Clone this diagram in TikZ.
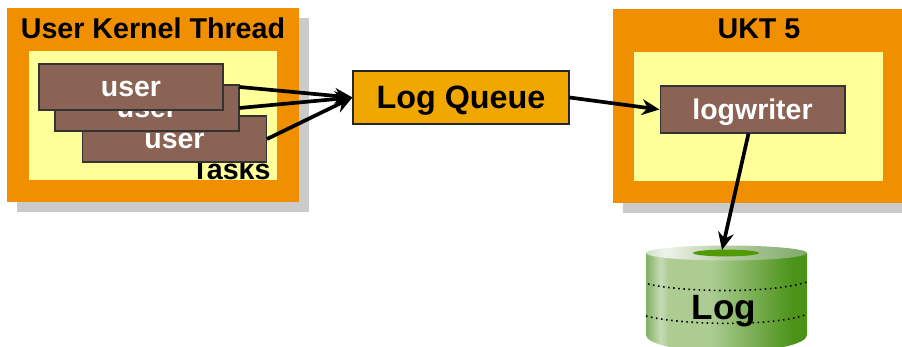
\documentclass[tikz,border=0pt]{standalone}
\usepackage{fontspec}
\setmainfont{Liberation Sans}
\usepackage{tikz}
\usetikzlibrary{shapes}
\usetikzlibrary{arrows.meta}

\definecolor{ukt}{HTML}{F09000}
\definecolor{ukts}{HTML}{CBCBCB}
\definecolor{inner}{HTML}{FFFF99}
\definecolor{task}{HTML}{8A6354}
\definecolor{queue}{HTML}{F0A800}
\definecolor{hole}{HTML}{4F9A05}
\definecolor{sidea}{HTML}{82B065}
\definecolor{sideb}{HTML}{C6DCB4}
\definecolor{sidec}{HTML}{ACCC92}
\definecolor{sided}{HTML}{4A9218}
\definecolor{capa}{HTML}{D0E0C4}
\definecolor{capb}{HTML}{EEF3EA}
\definecolor{capc}{HTML}{B5CDA5}
\definecolor{capd}{HTML}{7FA968}
\pgfdeclarehorizontalshading{logside}{100bp}{
  color(0bp)=(sidea); color(25bp)=(sidea); color(29.5bp)=(sideb); color(32bp)=(sidec);
  color(45bp)=(sidec); color(71bp)=(sided); color(100bp)=(sided)}
\pgfdeclarehorizontalshading{logcap}{100bp}{
  color(0bp)=(capa); color(25bp)=(capa); color(31bp)=(capb); color(50bp)=(capc); color(75bp)=(capd); color(100bp)=(capd)}
\tikzset{
  kshadow/.style={rectangle,fill=ukts,minimum width=5.84cm,minimum height=3.88cm,inner sep=0},
  kernel/.style={rectangle,fill=ukt,minimum width=5.84cm,minimum height=3.88cm,inner sep=0},
  area/.style={rectangle,fill=inner,minimum width=4.97cm,minimum height=2.58cm,inner sep=0},
  usertask/.style={rectangle,draw=black!80,line width=0.6pt,fill=task,text=white,font=\fontsize{16.2}{16.2}\selectfont\bfseries,text height=14.5pt,text depth=3.3pt,minimum width=3.68cm,minimum height=0.92cm,inner sep=0},
  title/.style={anchor=base,font=\fontsize{16.3}{16.3}\selectfont\bfseries,inner sep=0},
  link/.style={line width=2.1pt,-{Stealth[length=10pt,width=9pt]}},
  band/.style={dotted,line width=0.9pt}
}
\begin{document}
\begin{tikzpicture}[x=0.02cm,y=-0.02cm]
\useasboundingbox (0,0) rectangle (902,347);
% left thread
\node (leftshadow) at (163,115) [kshadow] {};
\node (left) at (153,105) [kernel] {};
\node (leftarea) at (153,115.5) [area] {};
\node (lefttitle) at (153,38.5) [title] {User Kernel Thread};
\node (tasks) at (231,180) [title] {Tasks};
\node (userc) at (174.5,139) [usertask] {user};
\node (userb) at (147,108) [usertask] {user};
\node (usera) at (131,87) [usertask] {user};
% right thread
\node (rightshadow) at (769,116) [kshadow] {};
\node (right) at (759,106) [kernel] {};
\node (rightarea) at (758.5,116.5) [area] {};
\node (righttitle) at (759,39) [title] {UKT 5};
\node (writer) at (752.5,109.5) [usertask,minimum width=3.7cm,minimum height=0.94cm] {logwriter};
% queue
\node (logqueue) at (461,97.5) [rectangle,draw=black!85,line width=0.7pt,fill=queue,minimum width=4.32cm,minimum height=1.06cm,inner sep=0,text height=15pt,text depth=3pt,font=\fontsize{18.4}{18.4}\selectfont\bfseries] {Log Queue};
% disk
\shade [shading=logside] (646,253) -- (646,335) arc (180:0:80.5 and 17) -- (807,253) -- cycle;
\shade [shading=logcap] (726.5,253) ellipse (80.5 and 7.5);
\fill [hole] (726,253) ellipse (33 and 3.4);
\draw [band] (648,284) .. controls (680,292) and (770,294) .. (807,282);
\draw [band] (646,316) .. controls (680,325) and (770,327) .. (805,315);
\node (log) at (724,319) [anchor=base,font=\fontsize{20}{20}\selectfont\bfseries,inner sep=0] {Log};
\coordinate (logtop) at (722,250);
% arrows
\draw [link] (userb.east |- usera.east) -- (logqueue.west);
\draw [link] (userb.east) -- (logqueue.west);
\draw [link] (userc.east) -- (logqueue.west);
\draw [link] (logqueue.east) -- (writer.west);
\draw [link] (writer.south) ++(-4,0) -- (logtop);
\end{tikzpicture}
\end{document}
